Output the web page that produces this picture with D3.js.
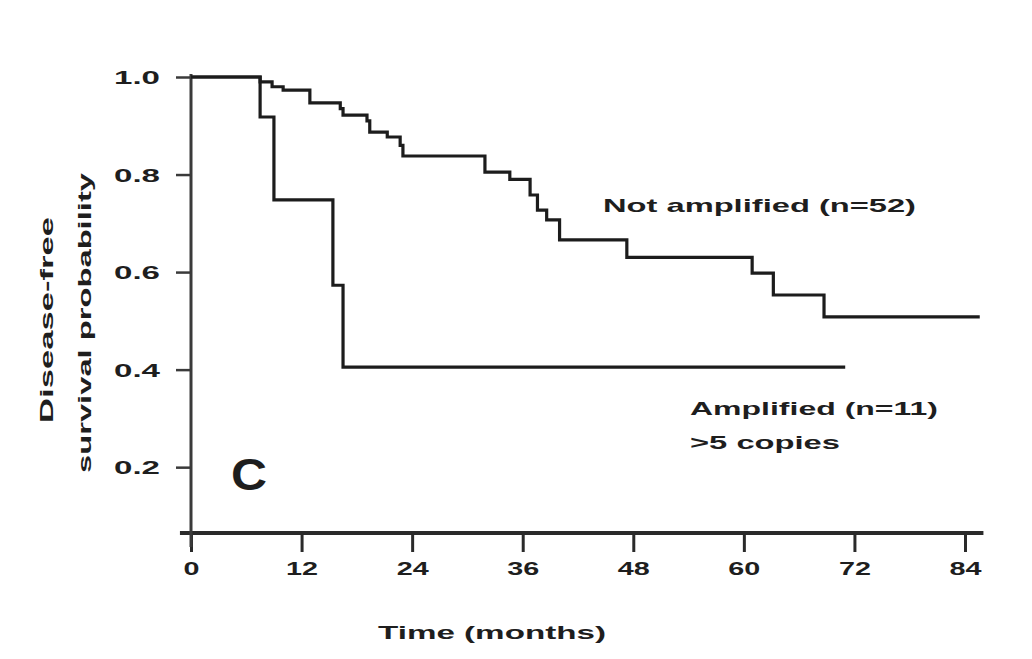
<!DOCTYPE html>
<html><head><meta charset="utf-8">
<script src="https://cdn.jsdelivr.net/npm/d3@7"></script>
<style>
body{margin:0;background:#fff;}
text{font-family:"Liberation Sans",Arial,sans-serif;font-weight:bold;fill:#1e1e1e;}
</style></head>
<body><svg id="c" width="1032" height="659"></svg>
<script>
// Time (months) at which each step begins, and survival after it
const notAmpTimes = [0, 7.5, 8.8, 10.0, 12.9, 16.2, 16.5, 19.1, 19.4, 21.3, 22.7, 23.0, 31.9, 34.6, 36.8, 37.6, 38.6, 40.0, 47.3, 60.9, 63.2, 68.7, 85.6];
const notAmpSurv  = [1.0, 0.99, 0.98, 0.973, 0.947, 0.935, 0.922, 0.91, 0.887, 0.877, 0.86, 0.838, 0.805, 0.79, 0.758, 0.727, 0.707, 0.666, 0.63, 0.598, 0.553, 0.508, 0.508];
const ampTimes = [0, 7.5, 9.0, 15.4, 16.5, 71.0];
const ampSurv  = [1.0, 0.918, 0.748, 0.573, 0.405, 0.405];
const xTicks = [0, 12, 24, 36, 48, 60, 72, 84];
const yTicks = [0.2, 0.4, 0.6, 0.8, 1.0];
const labelNotAmp = "Not amplified (n=52)";
const labelAmp = ["Amplified (n=11)", ">5 copies"];
const panelLetter = "C";
const xTitle = "Time (months)";
const yTitle = ["Disease-free", "survival probability"];

const svg = d3.select("#c");
const x = d3.scaleLinear().domain([0, 84]).range([191, 965]);
const y = d3.scaleLinear().domain([0.065, 1.0]).range([533, 77]);

// X axis
const gx = svg.append("g").attr("transform", `translate(0,${y(0.065)})`)
  .call(d3.axisBottom(x).tickValues(xTicks).tickSize(19).tickSizeOuter(0).tickFormat(d3.format("d")));
gx.select(".domain").attr("d", `M${x(-1.2)},0H${x(86)}`).attr("stroke", "#2a2a2a").attr("stroke-width", 4);
gx.selectAll(".tick line").attr("stroke", "#2a2a2a").attr("stroke-width", 3);
gx.selectAll(".tick text").attr("y", 36).attr("dy", "0.34em").attr("font-size", 19)
  .attr("textLength", d => String(d).length * 16).attr("lengthAdjust", "spacingAndGlyphs").attr("fill", "#1e1e1e");

// Y axis
const gy = svg.append("g").attr("transform", `translate(${x(0)},0)`)
  .call(d3.axisLeft(y).tickValues(yTicks).tickSize(15).tickSizeOuter(0).tickFormat(d3.format(".1f")));
gy.select(".domain").attr("d", `M0,${y(1.0) - 3}V${y(0.065) + 14}`).attr("stroke", "#3a3a3a").attr("stroke-width", 3);
gy.selectAll(".tick line").attr("stroke", "#3a3a3a").attr("stroke-width", 2.5);
gy.selectAll(".tick text").attr("x", -31).attr("dy", "0.34em").attr("font-size", 19)
  .attr("textLength", 46).attr("lengthAdjust", "spacingAndGlyphs").attr("fill", "#1e1e1e");
gy.selectAll("text").attr("font-family", "Liberation Sans, Arial, sans-serif").attr("font-weight", "bold");
gx.selectAll("text").attr("font-family", "Liberation Sans, Arial, sans-serif").attr("font-weight", "bold");

// Curves
const line = d3.line().x(d => x(d[0])).y(d => y(d[1])).curve(d3.curveStepAfter);
const naData = notAmpTimes.map((t, i) => [t, notAmpSurv[i]]);
const amData = ampTimes.map((t, i) => [t, ampSurv[i]]);
svg.append("path").datum(naData).attr("d", line).attr("fill", "none").attr("stroke", "#1c1c1c").attr("stroke-width", 3.2);
svg.append("path").datum(amData).attr("d", line).attr("fill", "none").attr("stroke", "#1c1c1c").attr("stroke-width", 3.2);

// Labels
svg.append("text").attr("x", 603).attr("y", 212).attr("font-size", 19)
  .attr("textLength", 313).attr("lengthAdjust", "spacingAndGlyphs").text(labelNotAmp);
svg.append("text").attr("x", 690).attr("y", 415).attr("font-size", 19)
  .attr("textLength", 248).attr("lengthAdjust", "spacingAndGlyphs").text(labelAmp[0]);
svg.append("text").attr("x", 690).attr("y", 449).attr("font-size", 19)
  .attr("textLength", 150).attr("lengthAdjust", "spacingAndGlyphs").text(labelAmp[1]);
svg.append("text").attr("x", 231).attr("y", 490).attr("font-size", 44)
  .attr("textLength", 36).attr("lengthAdjust", "spacingAndGlyphs").text(panelLetter);

// Axis titles
svg.append("text").attr("x", 378).attr("y", 639).attr("font-size", 18)
  .attr("textLength", 228).attr("lengthAdjust", "spacingAndGlyphs").text(xTitle);
svg.append("text").attr("transform", "translate(53,320) rotate(-90)").attr("text-anchor", "middle")
  .attr("font-size", 19).attr("textLength", 206).attr("lengthAdjust", "spacingAndGlyphs").text(yTitle[0]);
svg.append("text").attr("transform", "translate(91,323) rotate(-90)").attr("text-anchor", "middle")
  .attr("font-size", 19).attr("textLength", 300).attr("lengthAdjust", "spacingAndGlyphs").text(yTitle[1]);
</script></body></html>
